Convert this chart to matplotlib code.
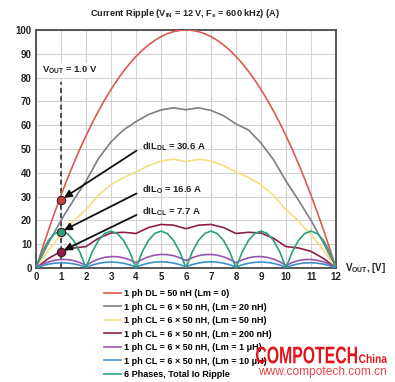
import matplotlib
matplotlib.use("Agg")
import matplotlib.pyplot as plt
from matplotlib import font_manager
from matplotlib.textpath import TextPath
from matplotlib.patches import PathPatch
from matplotlib.font_manager import FontProperties
from matplotlib.transforms import Affine2D

# ---------------- data ----------------
x_fine = [i * 0.25 for i in range(49)]   # 0 .. 12 step 0.25
x_half = [i * 0.5 for i in range(25)]    # 0 .. 12 step 0.5

red_dl = [0, 8.16, 15.97, 23.44, 30.56, 37.33, 43.75, 49.83, 55.56, 60.94, 65.97, 70.66,
          75.0, 78.99, 82.64, 85.94, 88.89, 91.49, 93.75, 95.66, 97.22, 98.44, 99.31, 99.83,
          100.0,
          99.83, 99.31, 98.44, 97.22, 95.66, 93.75, 91.49, 88.89, 85.94, 82.64, 78.99, 75.0,
          70.66, 65.97, 60.94, 55.56, 49.83, 43.75, 37.33, 30.56, 23.44, 15.97, 8.16, 0]

gray_lm20 = [0, 10.5, 20, 28.5, 36.5, 46, 53, 58, 61.5, 64.5, 66.4, 67.3, 66.5,
             67.3, 66.2, 64, 60.5, 58, 52.5, 45.5, 36.5, 28.5, 20, 10.5, 0]

yellow_lm50 = [0, 7.5, 14, 19.8, 24.5, 30.5, 35, 38, 40.3, 43, 45, 45.7, 44.7,
               45.7, 45, 43, 40.3, 38, 35, 30.5, 24.5, 19.8, 14, 7.5, 0]

magenta_lm200 = [0, 4, 7, 8.4, 9, 12.5, 14.7, 15, 14.5, 17, 18.3, 18, 16.5,
                 18, 18.3, 17, 14.5, 15, 14.7, 12.5, 9, 8.4, 7, 4, 0]

purple_lm1u = [0, 1.47, 2.56, 3.27, 3.6, 3.55, 3.11, 2.29, 1.1,
               2.62, 3.74, 4.46, 4.8, 4.74, 4.29, 3.44, 2.2,
               3.64, 4.71, 5.4, 5.7, 5.62, 5.16, 4.32, 3.1,
               4.32, 5.16, 5.62, 5.7, 5.4, 4.71, 3.64, 2.2,
               3.44, 4.29, 4.74, 4.8, 4.46, 3.74, 2.62, 1.1,
               2.29, 3.11, 3.55, 3.6, 3.27, 2.56, 1.47, 0]

blue_lm10u = [0, 0.94, 1.61, 2.03, 2.2, 2.11, 1.76, 1.16, 0.3,
              1.25, 1.94, 2.36, 2.5, 2.38, 1.99, 1.33, 0.4,
              1.35, 2.04, 2.46, 2.6, 2.48, 2.09, 1.43, 0.5,
              1.43, 2.09, 2.48, 2.6, 2.46, 2.04, 1.35, 0.4,
              1.33, 1.99, 2.38, 2.5, 2.36, 1.94, 1.25, 0.3,
              1.16, 1.76, 2.11, 2.2, 2.03, 1.61, 0.94, 0]

green_total = [0, 6.8, 11.6, 14.5, 15.5, 14.5, 11.6, 6.8,
               0, 6.8, 11.6, 14.5, 15.5, 14.5, 11.6, 6.8,
               0, 6.8, 11.6, 14.5, 15.5, 14.5, 11.6, 6.8,
               0, 6.8, 11.6, 14.5, 15.5, 14.5, 11.6, 6.8,
               0, 6.8, 11.6, 14.5, 15.5, 14.5, 11.6, 6.8,
               0, 6.8, 11.6, 14.5, 15.5, 14.5, 11.6, 6.8, 0]

labels = ["1 ph DL = 50 nH (Lm = 0)",
          "1 ph CL = 6 × 50 nH, (Lm = 20 nH)",
          "1 ph CL = 6 × 50 nH, (Lm = 50 nH)",
          "1 ph CL = 6 × 50 nH, (Lm = 200 nH)",
          "1 ph CL = 6 × 50 nH, (Lm = 1 μH)",
          "1 ph CL = 6 × 50 nH, (Lm = 10 μH)",
          "6 Phases, Total Io Ripple"]

marker_x = [1, 1, 1]
marker_y = [28.7, 15.1, 6.7]
ann_texts = [r"dIL$_{DL}$ = 30.6 A", r"dIL$_{O}$ = 16.6 A", r"dIL$_{CL}$ = 7.7 A"]
ann_text_pos = [(4.1, 50.5), (4.1, 32.5), (4.1, 23.5)]

x_ticks = list(range(0, 13))
y_ticks = list(range(0, 101, 10))

# ---------------- style ----------------
names = {f.name for f in font_manager.fontManager.ttflist}
base = "Liberation Sans" if "Liberation Sans" in names else "DejaVu Sans"
plt.rcParams["font.family"] = [base, "DejaVu Sans"]
plt.rcParams["font.weight"] = "bold"
plt.rcParams["mathtext.fontset"] = "custom"
plt.rcParams["mathtext.rm"] = base + ":bold"
plt.rcParams["mathtext.bf"] = base + ":bold"
plt.rcParams["mathtext.it"] = base + ":bold"
plt.rcParams["mathtext.default"] = "bf"

colors = ["#dc5a52", "#7d7d86", "#f3df83", "#8c1f4c", "#9a55b3", "#3f8fcf", "#2aa07e"]
txt_color = "#222222"

fig = plt.figure(figsize=(3.95, 3.82), dpi=100)
ax = fig.add_axes([36 / 395, 1 - 268 / 382, 300 / 395, 238 / 382])

series = [(x_fine, red_dl), (x_half, gray_lm20), (x_half, yellow_lm50),
          (x_half, magenta_lm200), (x_fine, purple_lm1u), (x_fine, blue_lm10u),
          (x_fine, green_total)]
handles = []
for (xs, ys), c, lab in zip(series, colors, labels):
    h, = ax.plot(xs, ys, color=c, lw=1.2, label=lab, zorder=3, solid_joinstyle="round")
    handles.append(h)

# dashed Vout=1 line
ax.plot([1, 1], [0, 78], color="#333333", lw=1.2, dashes=(3, 2), zorder=2)
ax.text(0.25, 83, r"V$_{OUT}$ = 1.0 V", fontsize=6.8, color=txt_color, va="center", ha="left",
        bbox=dict(facecolor="white", edgecolor="none", pad=1.5), zorder=4)

# markers
mcols = ["#c9413b", "#2aa07e", "#8c1f4c"]
for mx, my, mc in zip(marker_x, marker_y, mcols):
    ax.plot([mx], [my], "o", ms=6, mfc=mc, mec="#3a1a1a", mew=0.8, zorder=6)

# annotations
for t, (tx, ty), my in zip(ann_texts, ann_text_pos, marker_y):
    ax.annotate("", xy=(1.12, my + 0.8), xytext=(tx - 0.08, ty - 1.2),
                arrowprops=dict(arrowstyle="-|>", color="#111111", lw=1.3,
                                mutation_scale=11, shrinkA=0, shrinkB=0), zorder=5)
    ax.text(tx + 0.15, ty + 0.3, t, fontsize=6.8, color=txt_color, va="center", ha="left", zorder=5)

ax.set_xlim(0, 12)
ax.set_ylim(0, 100)
ax.set_xticks(x_ticks)
ax.set_yticks(y_ticks)
ax.tick_params(length=0, labelsize=7, colors=txt_color, pad=3)
for lbl in ax.get_xticklabels() + ax.get_yticklabels():
    lbl.set_fontweight("bold")
ax.grid(True, color="#d2d2d2", lw=0.8)
ax.set_axisbelow(True)
for s in ax.spines.values():
    s.set_color("#4a4a4a")
    s.set_linewidth(1.3)

ax.text(12.35, 0, r"V$_{OUT}$, [V]", fontsize=7, color=txt_color, va="center", ha="left",
        clip_on=False)

fig.text(185 / 395, 1 - 14 / 382, r"Current Ripple (V$_{IN}$ = 12 V, F$_s$ = 600 kHz) (A)",
         fontsize=6.6, color=txt_color, ha="center", va="center")

fig.legend(handles=handles, labels=labels, loc="upper left",
           bbox_to_anchor=(104 / 395, 1 - 289 / 382), frameon=False, fontsize=6.5,
           handlelength=1.9, handletextpad=0.35, labelspacing=0.5, borderpad=0,
           borderaxespad=0)

# watermark (overlay in pixel coordinates)
ov = fig.add_axes([0, 0, 1, 1], zorder=10)
ov.set_xlim(0, 395)
ov.set_ylim(382, 0)
ov.axis("off")
wm_red = "#e3141b"
fp = FontProperties(family=base, weight="bold")
tp = TextPath((0, 0), "COMPOTECH", size=1, prop=fp)
ext = tp.get_extents()
tr = Affine2D().translate(-ext.x0, -ext.y0).scale(101 / ext.width, -17 / ext.height).translate(256, 363.5)
ov.add_patch(PathPatch(tr.transform_path(tp), fc=wm_red, ec="none"))
tp2 = TextPath((0, 0), "China", size=1, prop=fp)
ext2 = tp2.get_extents()
tr2 = Affine2D().translate(-ext2.x0, -ext2.y0).scale(28 / ext2.width, -9 / ext2.height).translate(359, 363)
ov.add_patch(PathPatch(tr2.transform_path(tp2), fc=wm_red, ec="none"))
ov.text(322, 372, "www.compotech.com.cn", fontsize=8.6, color="#e8454a", weight="normal",
        ha="center", va="center")

fig.savefig("out.png", dpi=100)
